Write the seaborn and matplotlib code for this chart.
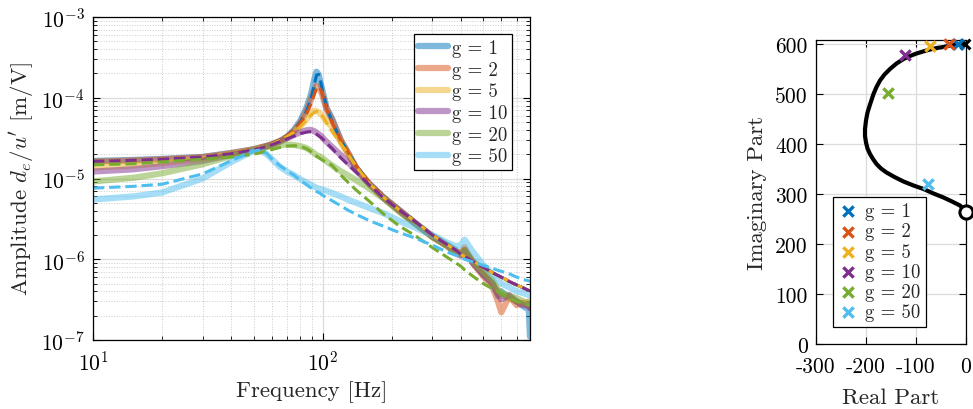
import matplotlib
matplotlib.use("Agg")
import numpy as np
import matplotlib.pyplot as plt
import seaborn as sns

# frequency grid [Hz] shared by all curves
freq = [10, 15, 20, 30, 40, 50, 53, 57, 60, 65, 70, 75, 80, 85, 88,
        90, 92, 94, 96, 98, 100, 104, 110, 120, 130, 140, 160, 185, 215, 250,
        300, 350, 380, 400, 415, 450, 500, 550, 580, 600, 650, 700, 750, 790, 800]

# amplitudes in um/V (converted to m/V below)
# measured (thick, transparent)
meas_g1 = [16.5, 17.0, 17.5, 18.5, 20.7, 23.0, 24.0, 25.3, 26.5, 29.0, 33.0, 40.0, 52.0, 75.0, 100,
           125, 170, 210, 195, 150, 120, 75, 55, 30, 20, 13.5, 8.5, 5.8, 4.1, 2.9,
           1.95, 1.5, 1.3, 1.15, 1.3, 0.95, 0.65, 0.5, 0.35, 0.4, 0.33, 0.3, 0.26, 0.24, 0.11]
meas_g2 = [16.2, 16.7, 17.3, 18.4, 20.6, 23.0, 24.0, 25.3, 26.5, 29.0, 32.5, 39.0, 49.0, 68.0, 88.0,
           105, 125, 140, 138, 122, 105, 72, 53, 29.5, 20, 13.5, 8.5, 5.7, 4.1, 2.9,
           1.9, 1.45, 1.2, 1.2, 1.4, 0.9, 0.62, 0.45, 0.3, 0.22, 0.35, 0.27, 0.29, 0.26, 0.25]
meas_g5 = [13.7, 14.5, 15.5, 17.5, 20.0, 22.8, 23.8, 25.0, 26.2, 28.5, 32.0, 37.0, 44.0, 54.0, 61.0,
           66.0, 69.0, 68.0, 66.0, 63.0, 59.0, 51.0, 43.0, 28.0, 19.5, 13.5, 8.5, 5.7, 4.0, 2.85,
           1.9, 1.45, 1.25, 1.15, 1.3, 0.95, 0.7, 0.5, 0.4, 0.36, 0.33, 0.3, 0.28, 0.3, 0.28]
meas_g10 = [12.2, 13.0, 14.2, 16.5, 19.5, 22.5, 23.5, 25.0, 26.0, 28.5, 31.5, 34.5, 37.5, 39.5, 40.0,
            39.5, 38.5, 37.0, 35.5, 34.0, 32.0, 28.5, 24.5, 19.5, 15.5, 12.5, 8.5, 5.7, 4.0, 2.85,
            1.9, 1.45, 1.2, 1.1, 1.3, 0.9, 0.65, 0.5, 0.38, 0.32, 0.36, 0.3, 0.27, 0.27, 0.25]
meas_g20 = [9.2, 10.2, 11.6, 15.0, 19.0, 22.5, 23.5, 24.5, 25.2, 26.0, 26.3, 26.0, 25.2, 23.8, 22.5,
            21.5, 20.5, 19.5, 19.0, 18.5, 17.8, 16.3, 14.5, 12.3, 10.8, 9.5, 7.5, 5.6, 3.9, 2.8,
            1.9, 1.45, 1.2, 1.15, 1.3, 0.95, 0.7, 0.55, 0.42, 0.38, 0.35, 0.33, 0.3, 0.29, 0.28]
meas_g50 = [5.5, 6.0, 6.7, 10.0, 16.0, 22.0, 23.0, 20.0, 17.5, 14.0, 12.2, 11.0, 9.8, 8.9, 8.5,
            8.2, 7.9, 7.7, 7.5, 7.4, 7.3, 7.0, 6.6, 6.0, 5.4, 5.0, 4.3, 3.7, 3.0, 2.5,
            2.0, 1.6, 1.45, 1.5, 1.75, 1.25, 0.85, 0.65, 0.55, 0.5, 0.45, 0.4, 0.38, 0.36, 0.35]

# model (dashed)
mod_g1 = [16.3, 16.8, 17.5, 18.6, 20.5, 23.0, 24.0, 25.5, 27.0, 30.0, 34.0, 40.0, 50.0, 68.0, 88.0,
          110, 145, 190, 195, 160, 120, 78, 50, 30, 20.5, 14.5, 8.8, 5.8, 4.1, 3.0,
          2.0, 1.5, 1.3, 1.15, 1.08, 0.95, 0.8, 0.68, 0.63, 0.6, 0.53, 0.48, 0.44, 0.41, 0.41]
mod_g2 = [16.3, 16.8, 17.5, 18.6, 20.5, 23.0, 24.0, 25.5, 27.0, 30.0, 34.0, 39.5, 48.5, 63.0, 78.0,
          92.0, 110, 130, 138, 128, 108, 74, 49, 30, 20.5, 14.5, 8.8, 5.8, 4.1, 3.0,
          2.0, 1.5, 1.3, 1.15, 1.08, 0.95, 0.8, 0.68, 0.63, 0.6, 0.53, 0.48, 0.44, 0.41, 0.41]
mod_g5 = [16.3, 16.8, 17.5, 18.6, 20.5, 23.0, 24.0, 25.3, 26.7, 29.5, 33.0, 37.5, 44.0, 53.0, 59.0,
          63.0, 66.0, 68.0, 67.0, 64.0, 59.0, 49.0, 38.0, 27.0, 19.5, 14.0, 8.7, 5.8, 4.1, 3.0,
          2.0, 1.5, 1.3, 1.15, 1.08, 0.95, 0.8, 0.68, 0.63, 0.6, 0.53, 0.48, 0.44, 0.41, 0.41]
mod_g10 = [16.3, 16.8, 17.4, 18.5, 20.3, 22.7, 23.6, 25.0, 26.2, 28.5, 31.0, 33.5, 36.0, 37.5, 38.0,
           37.5, 36.5, 35.5, 34.0, 32.5, 31.0, 27.5, 23.5, 18.0, 14.5, 12.0, 8.3, 5.7, 4.1, 3.0,
           2.0, 1.5, 1.3, 1.15, 1.08, 0.95, 0.8, 0.68, 0.63, 0.6, 0.53, 0.48, 0.44, 0.41, 0.41]
mod_g20 = [14.8, 15.2, 16.0, 17.3, 18.5, 20.0, 20.7, 21.8, 22.8, 24.2, 25.2, 25.5, 25.0, 23.5, 22.0,
           21.0, 20.0, 19.0, 18.2, 17.5, 16.8, 16.0, 14.5, 11.0, 8.8, 7.2, 5.2, 3.6, 2.6, 2.0,
           1.4, 1.05, 0.9, 0.82, 0.74, 0.62, 0.5, 0.43, 0.4, 0.38, 0.33, 0.3, 0.28, 0.27, 0.27]
mod_g50 = [7.6, 8.0, 8.5, 11.4, 16.6, 21.8, 22.5, 20.5, 17.5, 14.5, 12.5, 11.0, 9.5, 8.4, 7.8,
           7.5, 7.2, 6.9, 6.7, 6.5, 6.2, 5.8, 5.3, 4.6, 4.0, 3.6, 3.0, 2.55, 2.15, 1.85,
           1.5, 1.22, 1.12, 1.05, 1.0, 0.93, 0.84, 0.77, 0.73, 0.71, 0.66, 0.6, 0.56, 0.54, 0.53]

gains = [1, 2, 5, 10, 20, 50]
colors = ["#0072BD", "#D95319", "#EDB120", "#7E2F8E", "#77AC30", "#4DBEEE"]

# root locus (real / imaginary part)
locus_re = [-3, -10, -20, -32, -45, -58, -72, -86, -99, -112, -125, -139, -152, -163, -172,
            -179, -185, -191, -197, -200, -202, -202, -200, -197, -192, -186, -179, -170,
            -159, -143, -125, -105, -85, -65, -45, -28, -12, 0]
locus_im = [601, 600.5, 599, 597, 594, 592, 589, 585, 581, 576, 570, 561, 550, 539, 527,
            514, 500, 482, 463, 447, 430, 416, 403, 391, 380, 370, 360, 351,
            343, 334, 325, 317, 310, 301, 293, 285, 277, 265]
pole_re = [-17, -35, -72, -122, -157, -77]
pole_im = [600, 601, 597, 579, 502, 321]
ol_pole = (-3, 601)
ol_zero = (0, 265)

sns.set_style("ticks")
plt.rcParams.update({
    "font.family": ["cmr10"],
    "mathtext.fontset": "cm",
    "axes.unicode_minus": False,
    "axes.formatter.use_mathtext": False,
    "axes.labelsize": 16.5,
    "xtick.labelsize": 15.5,
    "ytick.labelsize": 15.5,
    "axes.edgecolor": "black",
    "axes.linewidth": 0.9,
    "xtick.direction": "in",
    "ytick.direction": "in",
    "xtick.color": "black",
    "ytick.color": "black",
})

fig = plt.figure(figsize=(9.73, 4.10), dpi=100)
ax = fig.add_axes([93 / 973, 69 / 410, 437 / 973, 323 / 410])
ax2 = fig.add_axes([816 / 973, 65 / 410, 150 / 973, 304 / 410])

ax.set_xscale("log")
ax.set_yscale("log")
meas = [meas_g1, meas_g2, meas_g5, meas_g10, meas_g20, meas_g50]
mods = [mod_g1, mod_g2, mod_g5, mod_g10, mod_g20, mod_g50]
f = np.array(freq)
for g, m, c in zip(gains, meas, colors):
    sns.lineplot(x=f, y=np.array(m) * 1e-6, ax=ax, color=c, alpha=0.5, lw=4.5,
                 estimator=None, label=f"g = {g}")
for m, c in zip(mods, colors):
    sns.lineplot(x=f, y=np.array(m) * 1e-6, ax=ax, color=c, lw=2.2, linestyle="--",
                 dashes=(4, 2), estimator=None, label="_nolegend_")

ax.set_xlim(10, 800)
ax.set_ylim(1e-7, 1e-3)
ax.grid(True, which="major", color="#dcdcdc", lw=0.9, ls="-")
ax.grid(True, which="minor", color="#cccccc", lw=0.7, ls=":")
ax.tick_params(which="both", top=True, right=True)
ax.tick_params(which="major", length=5)
ax.tick_params(which="minor", length=3)
ax.tick_params(axis="x", which="both", pad=7)
ax.tick_params(axis="y", which="both", pad=6)
ax.set_xlabel("Frequency [Hz]", labelpad=5)
ax.set_ylabel(r"Amplitude $d_e/u'$ [m/V]", labelpad=4)
leg = ax.legend(loc="upper right", bbox_to_anchor=(0.959, 0.947), borderaxespad=0,
                fontsize=13.5, fancybox=False, framealpha=1, edgecolor="black",
                handlelength=1.6, handletextpad=0.2, labelspacing=0.2, borderpad=0.25)
leg.get_frame().set_linewidth(0.9)

# root locus panel
sns.lineplot(x=locus_re, y=locus_im, ax=ax2, sort=False, estimator=None,
             color="black", lw=3, zorder=3)
sns.scatterplot(x=[ol_pole[0]], y=[ol_pole[1]], ax=ax2, marker="x", color="black",
                s=50, linewidth=2.2, clip_on=False, zorder=4)
sns.scatterplot(x=[ol_zero[0]], y=[ol_zero[1]], ax=ax2, marker="o", color="white",
                edgecolor="black", s=90, linewidth=2.2, clip_on=False, zorder=6)
for g, re, im, c in zip(gains, pole_re, pole_im, colors):
    sns.scatterplot(x=[re], y=[im], ax=ax2, marker="x", color=c, s=55, linewidth=2.4,
                    clip_on=False, zorder=5, label=f"g = {g}")
ax2.set_xlim(-300, 0)
ax2.set_ylim(0, 608)
ax2.set_xticks([-300, -200, -100, 0])
ax2.set_yticks([0, 100, 200, 300, 400, 500, 600])
ax2.grid(True, color="#dcdcdc", lw=0.9)
ax2.tick_params(top=True, right=True, length=5)
ax2.tick_params(axis="x", pad=9)
ax2.tick_params(axis="y", pad=6)
ax2.set_xlabel("Real Part", labelpad=8)
ax2.set_ylabel("Imaginary Part", labelpad=6)
leg2 = ax2.legend(loc="lower left", bbox_to_anchor=(0.113, 0.056), borderaxespad=0,
                  fontsize=13.5, fancybox=False, framealpha=1, edgecolor="black",
                  handlelength=1.0, handletextpad=0.4, labelspacing=0.12, borderpad=0.3)
leg2.get_frame().set_linewidth(0.9)

fig.savefig("out.png", dpi=100)
